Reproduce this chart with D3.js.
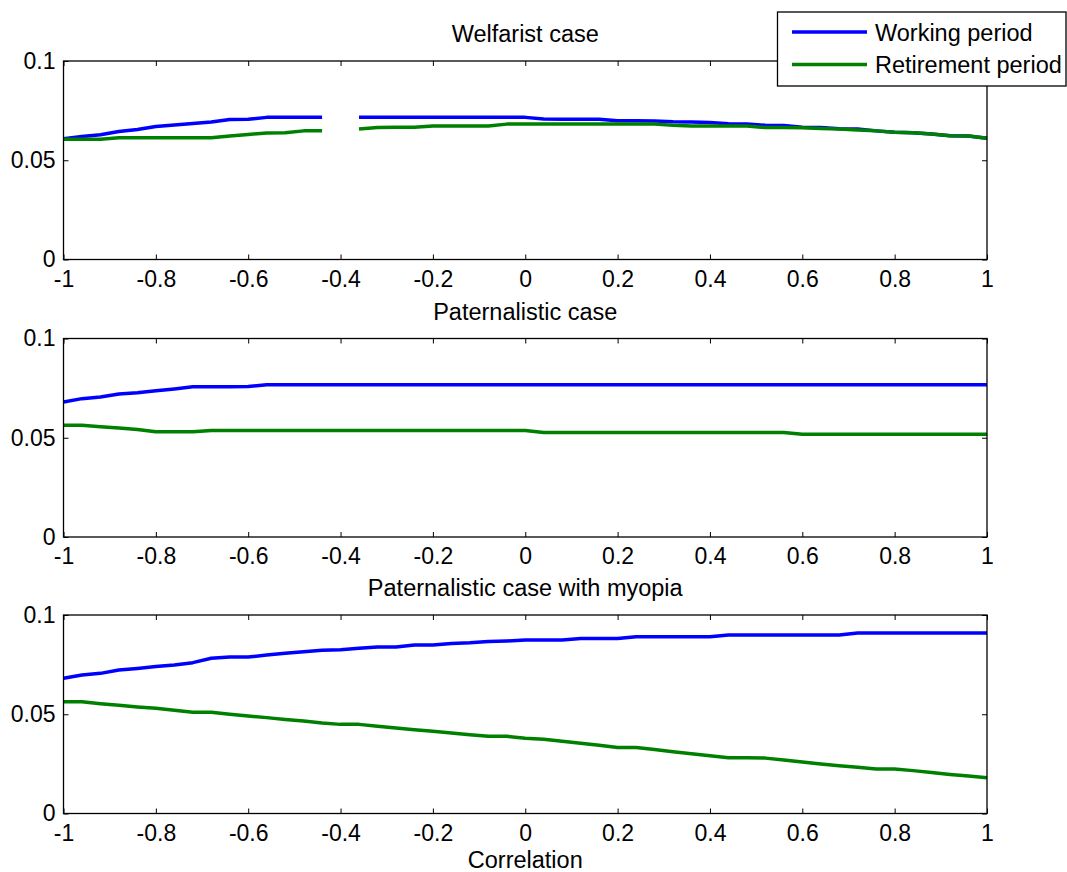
<!DOCTYPE html>
<html>
<head>
<meta charset="utf-8">
<script src="https://cdn.jsdelivr.net/npm/d3@7/dist/d3.min.js"></script>
<style>
  html, body { margin: 0; padding: 0; background: #fff; }
  svg { display: block; font-family: "Liberation Sans", Arial, sans-serif; }
</style>
</head>
<body>
<svg id="chart" width="1067" height="872"></svg>
<script>
// ---------- DATA ----------
const correlation = [-1, -0.96, -0.92, -0.88, -0.84, -0.80, -0.76, -0.72, -0.68, -0.64,
  -0.60, -0.56, -0.52, -0.48, -0.44, -0.40, -0.36, -0.32, -0.28, -0.24,
  -0.20, -0.16, -0.12, -0.08, -0.04, 0, 0.04, 0.08, 0.12, 0.16,
  0.20, 0.24, 0.28, 0.32, 0.36, 0.40, 0.44, 0.48, 0.52, 0.56,
  0.60, 0.64, 0.68, 0.72, 0.76, 0.80, 0.84, 0.88, 0.92, 0.96, 1];

const panelTitles = ["Welfarist case", "Paternalistic case", "Paternalistic case with myopia"];
const seriesNames = ["Working period", "Retirement period"];
const xTicks = [-1, -0.8, -0.6, -0.4, -0.2, 0, 0.2, 0.4, 0.6, 0.8, 1];
const yTicks = [0, 0.05, 0.1];
const xLabel = "Correlation";

// Welfarist case (null = missing value)
const welfWork = [0.0608, 0.0620, 0.0628, 0.0645, 0.0655, 0.0670, 0.0677, 0.0685, 0.0693, 0.0705,
  0.0706, 0.0716, 0.0716, 0.0716, 0.0716, null, 0.0716, 0.0716, 0.0716, 0.0716,
  0.0716, 0.0716, 0.0716, 0.0716, 0.0716, 0.0716, 0.0708, 0.0707, 0.0707, 0.0706,
  0.0699, 0.0699, 0.0698, 0.0694, 0.0693, 0.0690, 0.0684, 0.0683, 0.0676, 0.0675,
  0.0666, 0.0665, 0.0659, 0.0657, 0.0648, 0.0641, 0.0638, 0.0632, 0.0624, 0.0622, 0.0611];
const welfRet = [0.0606, 0.0606, 0.0606, 0.0613, 0.0613, 0.0613, 0.0613, 0.0613, 0.0613, 0.0622,
  0.0630, 0.0637, 0.0638, 0.0648, 0.0648, null, 0.0658, 0.0665, 0.0666, 0.0666,
  0.0672, 0.0673, 0.0673, 0.0673, 0.0682, 0.0682, 0.0682, 0.0682, 0.0682, 0.0682,
  0.0682, 0.0682, 0.0682, 0.0676, 0.0673, 0.0673, 0.0673, 0.0672, 0.0665, 0.0665,
  0.0664, 0.0660, 0.0657, 0.0652, 0.0648, 0.0641, 0.0638, 0.0632, 0.0624, 0.0622, 0.0611];

// Paternalistic case
const patWork = [0.0680, 0.0697, 0.0705, 0.0720, 0.0727, 0.0737, 0.0746, 0.0757, 0.0757, 0.0757,
  0.0758, 0.0767, 0.0767, 0.0767, 0.0767, 0.0767, 0.0767, 0.0767, 0.0767, 0.0767,
  0.0767, 0.0767, 0.0767, 0.0767, 0.0767, 0.0767, 0.0767, 0.0767, 0.0767, 0.0767,
  0.0767, 0.0767, 0.0767, 0.0767, 0.0767, 0.0767, 0.0767, 0.0767, 0.0767, 0.0767,
  0.0767, 0.0767, 0.0767, 0.0767, 0.0767, 0.0767, 0.0767, 0.0767, 0.0767, 0.0767, 0.0767];
const patRet = [0.0563, 0.0563, 0.0556, 0.0549, 0.0542, 0.0530, 0.0530, 0.0530, 0.0536, 0.0536,
  0.0536, 0.0536, 0.0536, 0.0536, 0.0536, 0.0536, 0.0536, 0.0536, 0.0536, 0.0536,
  0.0536, 0.0536, 0.0536, 0.0536, 0.0536, 0.0536, 0.0527, 0.0527, 0.0527, 0.0527,
  0.0527, 0.0527, 0.0527, 0.0527, 0.0527, 0.0527, 0.0527, 0.0527, 0.0527, 0.0527,
  0.0518, 0.0518, 0.0518, 0.0518, 0.0518, 0.0518, 0.0518, 0.0518, 0.0518, 0.0518, 0.0518];

// Paternalistic case with myopia
const myoWork = [0.0681, 0.0698, 0.0706, 0.0723, 0.0731, 0.0740, 0.0748, 0.0760, 0.0782, 0.0788,
  0.0788, 0.0798, 0.0807, 0.0815, 0.0822, 0.0825, 0.0832, 0.0839, 0.0839, 0.0849,
  0.0849, 0.0857, 0.0860, 0.0866, 0.0869, 0.0874, 0.0874, 0.0874, 0.0882, 0.0882,
  0.0882, 0.0891, 0.0891, 0.0891, 0.0891, 0.0891, 0.0899, 0.0899, 0.0899, 0.0899,
  0.0899, 0.0899, 0.0899, 0.0909, 0.0909, 0.0909, 0.0909, 0.0909, 0.0909, 0.0909, 0.0909];
const myoRet = [0.0563, 0.0563, 0.0553, 0.0545, 0.0537, 0.0530, 0.0520, 0.0510, 0.0510, 0.0500,
  0.0491, 0.0483, 0.0474, 0.0466, 0.0456, 0.0449, 0.0449, 0.0439, 0.0431, 0.0422,
  0.0414, 0.0406, 0.0397, 0.0389, 0.0389, 0.0379, 0.0374, 0.0364, 0.0354, 0.0344,
  0.0332, 0.0332, 0.0322, 0.0311, 0.0301, 0.0291, 0.0281, 0.0281, 0.0279, 0.0270,
  0.0259, 0.0249, 0.0241, 0.0233, 0.0224, 0.0224, 0.0216, 0.0206, 0.0197, 0.0189, 0.0180];

const panelSeries = [[welfWork, welfRet], [patWork, patRet], [myoWork, myoRet]];
const seriesColors = ["#0000ff", "#008000"];

// ---------- LAYOUT ----------
const svg = d3.select("#chart");
const left = 63.5, right = 987;
const panelTops = [61, 338.5, 615];
const panelH = 198.5;
const tickFs = 23, textFs = 23.5;
const tickLen = 5;

const x = d3.scaleLinear().domain([-1, 1]).range([left, right]);
const fmt = d => String(+(+d).toFixed(2));

panelSeries.forEach((series, p) => {
  const top = panelTops[p], bottom = top + panelH;
  const y = d3.scaleLinear().domain([0, 0.1]).range([bottom, top]);
  const g = svg.append("g");

  // series lines
  series.forEach((vals, s) => {
    const line = d3.line()
      .defined(d => d[1] !== null)
      .x(d => x(d[0]))
      .y(d => y(d[1]));
    g.append("path")
      .datum(correlation.map((c, i) => [c, vals[i]]))
      .attr("fill", "none")
      .attr("stroke", seriesColors[s])
      .attr("stroke-width", 3.5)
      .attr("stroke-linejoin", "round")
      .attr("d", line);
  });

  // axes (inward ticks)
  const xb = g.append("g").attr("transform", `translate(0,${bottom})`)
    .call(d3.axisBottom(x).tickValues(xTicks).tickFormat(fmt).tickSizeInner(-tickLen).tickSizeOuter(0).tickPadding(11));
  const xt = g.append("g").attr("transform", `translate(0,${top})`)
    .call(d3.axisTop(x).tickValues(xTicks).tickFormat("").tickSizeInner(-tickLen).tickSizeOuter(0));
  const yl = g.append("g").attr("transform", `translate(${left},0)`)
    .call(d3.axisLeft(y).tickValues(yTicks).tickFormat(fmt).tickSizeInner(-tickLen).tickSizeOuter(0).tickPadding(8));
  const yr = g.append("g").attr("transform", `translate(${right},0)`)
    .call(d3.axisRight(y).tickValues(yTicks).tickFormat("").tickSizeInner(-tickLen).tickSizeOuter(0));
  [xb, xt, yl, yr].forEach(a => {
    a.select(".domain").remove();
    a.selectAll("line").attr("stroke", "#000");
    a.selectAll("text").attr("fill", "#000").style("font-size", tickFs + "px")
      .style("font-family", '"Liberation Sans", Arial, sans-serif');
  });

  // box
  g.append("rect").attr("x", left).attr("y", top)
    .attr("width", right - left).attr("height", panelH)
    .attr("fill", "none").attr("stroke", "#000").attr("stroke-width", 1.3);

  // title
  g.append("text").attr("x", (left + right) / 2).attr("y", top - 19)
    .attr("text-anchor", "middle").style("font-size", textFs + "px").attr("fill", "#000")
    .text(panelTitles[p]);
});

// x label
svg.append("text").attr("x", (left + right) / 2).attr("y", 868)
  .attr("text-anchor", "middle").style("font-size", textFs + "px").attr("fill", "#000")
  .text(xLabel);

// legend
const lg = svg.append("g");
lg.append("rect").attr("x", 777.5).attr("y", 12).attr("width", 288.5).attr("height", 74)
  .attr("fill", "#fff").attr("stroke", "#000").attr("stroke-width", 1.3);
seriesNames.forEach((name, i) => {
  const ly = 32 + i * 32.5;
  lg.append("line").attr("x1", 792).attr("x2", 867).attr("y1", ly).attr("y2", ly)
    .attr("stroke", seriesColors[i]).attr("stroke-width", 3.5);
  lg.append("text").attr("x", 875).attr("y", ly + 8.5)
    .attr("textLength", null)
    .style("font-size", textFs + "px").attr("fill", "#000").text(name);
});
</script>
</body>
</html>
